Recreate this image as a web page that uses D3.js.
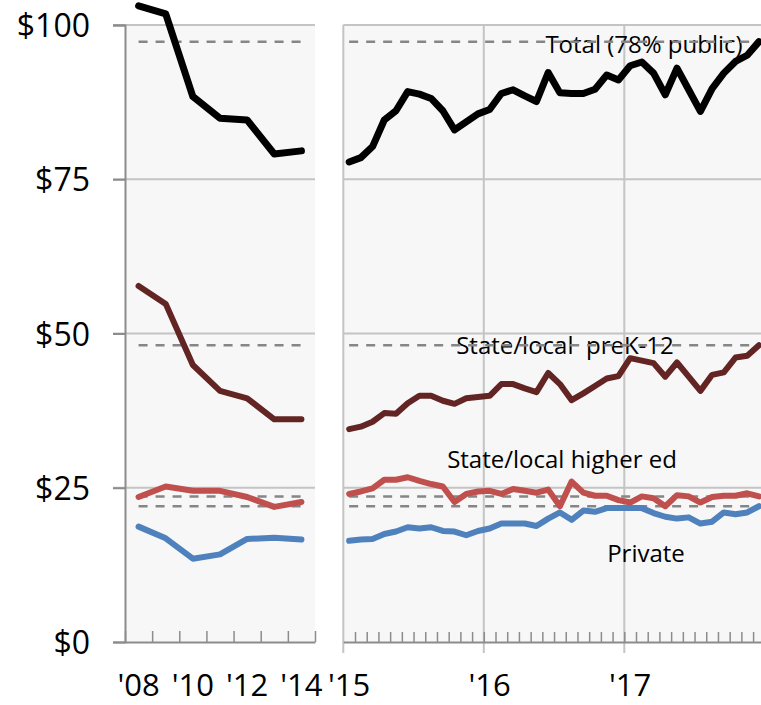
<!DOCTYPE html>
<html>
<head>
<meta charset="utf-8">
<script src="https://cdn.jsdelivr.net/npm/d3@7"></script>
<style>
  body { margin: 0; background: #fff; }
  text { font-family: "Open Sans", sans-serif; fill: #000; }
  .lbl { white-space: pre; }
</style>
</head>
<body>
<svg width="761" height="705"></svg>
<script>
// Annual values, 2008-2014 ($ billions)
const years = ["'08", "'09", "'10", "'11", "'12", "'13", "'14"];
const totalYear   = [103.1, 101.8, 88.4, 84.9, 84.6, 79.1, 79.6];
const prekYear    = [57.7, 54.8, 44.9, 40.7, 39.5, 36.1, 36.1];
const higherYear  = [23.5, 25.2, 24.5, 24.5, 23.5, 21.9, 22.7];
const privateYear = [18.7, 16.8, 13.5, 14.2, 16.7, 16.9, 16.6];

// Monthly values, Jan 2015 - Dec 2017
const months = d3.range(36).map(i => `${2015 + Math.floor(i / 12)}-${String(i % 12 + 1).padStart(2, "0")}`);
const totalMonth = [77.8, 78.5, 80.3, 84.6, 86.1, 89.2, 88.8, 88.1, 86.1, 83.0, 84.3, 85.6,
                    86.3, 88.9, 89.5, 88.5, 87.6, 92.3, 89.0, 88.9, 88.9, 89.6, 91.9, 91.1,
                    93.4, 94.0, 92.2, 88.7, 93.0, 89.5, 86.0, 89.7, 92.2, 94.1, 95.1, 97.3];
const prekMonth  = [34.5, 34.9, 35.7, 37.1, 37.0, 38.7, 39.9, 39.9, 39.1, 38.6, 39.5, 39.7,
                    39.9, 41.8, 41.8, 41.1, 40.5, 43.6, 41.8, 39.2, 40.3, 41.5, 42.7, 43.1,
                    46.0, 45.6, 45.2, 43.0, 45.3, 43.0, 40.7, 43.3, 43.7, 46.1, 46.4, 48.1];
const higherMonth = [24.0, 24.4, 24.9, 26.3, 26.3, 26.7, 26.1, 25.6, 25.2, 22.7, 24.0, 24.4,
                     24.5, 24.0, 24.8, 24.5, 24.2, 24.7, 22.0, 26.0, 24.2, 23.7, 23.7, 23.0,
                     22.6, 23.6, 23.3, 22.0, 23.8, 23.6, 22.6, 23.5, 23.7, 23.7, 24.1, 23.6];
const privateMonth = [16.4, 16.6, 16.7, 17.5, 17.9, 18.6, 18.4, 18.6, 18.0, 17.9, 17.3, 18.0,
                      18.4, 19.2, 19.2, 19.2, 18.8, 20.0, 21.0, 19.8, 21.3, 21.1, 21.7, 21.7,
                      21.7, 21.7, 20.9, 20.3, 20.0, 20.2, 19.2, 19.5, 21.0, 20.7, 21.0, 22.0];

const yTicks = [0, 25, 50, 75, 100];
const leftLabels = ["'08", "'10", "'12", "'14"];
const rightLabels = ["'15", "'16", "'17"];

const series = [
  {name: "Total (78% public)", year: totalYear, month: totalMonth, color: "#000000", w: 7},
  {name: "State/local  preK-12", year: prekYear, month: prekMonth, color: "#632523", w: 6},
  {name: "State/local higher ed", year: higherYear, month: higherMonth, color: "#c0504d", w: 6},
  {name: "Private", year: privateYear, month: privateMonth, color: "#4f81bd", w: 6}
];
// label anchor (center x, baseline y) per series, in pixels
const labelPos = [[644, 53], [565, 354], [562, 468], [646, 562]];

const svg = d3.select("svg");
const y = d3.scaleLinear().domain([0, 100]).range([642, 25]);

// left panel: one band per year; right panel: one band per month
const xl = d3.scaleLinear().domain([0, years.length]).range([125, 315]);
const xr = d3.scaleLinear().domain([0, months.length]).range([343.3, 764.8]);

const gridColor = "#c4c4c4", axisColor = "#8c8c8c";

// panel backgrounds
svg.append("rect").attr("x", xl(0)).attr("y", y(100))
  .attr("width", xl(years.length) - xl(0)).attr("height", y(0) - y(100)).attr("fill", "#f7f7f7");
svg.append("rect").attr("x", xr(0)).attr("y", y(100))
  .attr("width", xr(months.length) - xr(0)).attr("height", y(0) - y(100)).attr("fill", "#f7f7f7");

// horizontal gridlines
[[xl(0) - 12, xl(years.length)], [xr(0), xr(months.length)]].forEach(([a, b]) => {
  svg.append("g").selectAll("line")
    .data(yTicks.filter(d => d > 0))
    .join("line")
      .attr("x1", a).attr("x2", b)
      .attr("y1", d => y(d)).attr("y2", d => y(d))
      .attr("stroke", gridColor).attr("stroke-width", 2);
});

// vertical gridlines at year starts in right panel
svg.append("g").selectAll("line")
  .data([0, 12, 24])
  .join("line")
    .attr("x1", d => xr(d)).attr("x2", d => xr(d))
    .attr("y1", y(100)).attr("y2", y(0) + 11)
    .attr("stroke", gridColor).attr("stroke-width", 2);

// y axis
const yAxis = svg.append("g")
  .attr("transform", `translate(${xl(0)},0)`)
  .call(d3.axisLeft(y).tickValues(yTicks).tickFormat(d => "$" + d).tickSize(12).tickPadding(23));
yAxis.select(".domain").attr("stroke", axisColor).attr("stroke-width", 2);
yAxis.selectAll(".tick line").attr("stroke", axisColor).attr("stroke-width", 2);
yAxis.selectAll("text").attr("font-size", 32).attr("font-family", "Open Sans").attr("dy", "0.36em");

// left x axis: ticks between years, pointing up
const xlAxis = svg.append("g")
  .attr("transform", `translate(0,${y(0)})`)
  .call(d3.axisBottom(xl).tickValues(d3.range(years.length + 1)).tickSize(-11).tickSizeOuter(0).tickFormat(""));
xlAxis.select(".domain").attr("stroke", axisColor).attr("stroke-width", 2);
xlAxis.selectAll(".tick line").attr("stroke", axisColor).attr("stroke-width", 1.5);

// right x axis: monthly minor ticks up
const xrAxis = svg.append("g")
  .attr("transform", `translate(0,${y(0)})`)
  .call(d3.axisBottom(xr).tickValues(d3.range(1, months.length + 1)).tickSize(-10).tickSizeOuter(0).tickFormat(""));
xrAxis.select(".domain").attr("stroke", axisColor).attr("stroke-width", 2);
xrAxis.selectAll(".tick line").attr("stroke", axisColor).attr("stroke-width", 1.5);

// x tick labels
svg.append("g").selectAll("text")
  .data(leftLabels)
  .join("text")
    .attr("x", d => xl(years.indexOf(d) + 0.5))
    .attr("y", 696)
    .attr("text-anchor", "middle")
    .attr("font-size", 31)
    .text(d => d);
svg.append("g").selectAll("text")
  .data(rightLabels)
  .join("text")
    .attr("x", (d, i) => xr(i * 12 + 0.5))
    .attr("y", 696)
    .attr("text-anchor", "middle")
    .attr("font-size", 31)
    .text(d => d);

// series labels
svg.append("g").selectAll("text")
  .data(series)
  .join("text")
    .attr("class", "lbl")
    .attr("x", (d, i) => labelPos[i][0])
    .attr("y", (d, i) => labelPos[i][1])
    .attr("text-anchor", "middle")
    .attr("font-size", 24)
    .text(d => d.name);

// dashed reference lines at latest value
series.forEach(s => {
  const last = s.month[s.month.length - 1];
  [[xl(0.5), xl(years.length - 0.5)], [xr(0.5), xr(months.length)]].forEach(([a, b]) => {
    svg.append("line")
      .attr("x1", a).attr("x2", b)
      .attr("y1", y(last)).attr("y2", y(last))
      .attr("stroke", "#868686").attr("stroke-width", 2.5)
      .attr("stroke-dasharray", "9,8");
  });
});

// series lines
const lineL = d3.line().x((d, i) => xl(i + 0.5)).y(d => y(d));
const lineR = d3.line().x((d, i) => xr(i + 0.5)).y(d => y(d));
series.slice().reverse().forEach(s => {
  svg.append("path").attr("d", lineL(s.year))
    .attr("fill", "none").attr("stroke", s.color).attr("stroke-width", s.w)
    .attr("stroke-linejoin", "round").attr("stroke-linecap", "round");
  svg.append("path").attr("d", lineR(s.month))
    .attr("fill", "none").attr("stroke", s.color).attr("stroke-width", s.w)
    .attr("stroke-linejoin", "round").attr("stroke-linecap", "round");
});
</script>
</body>
</html>
